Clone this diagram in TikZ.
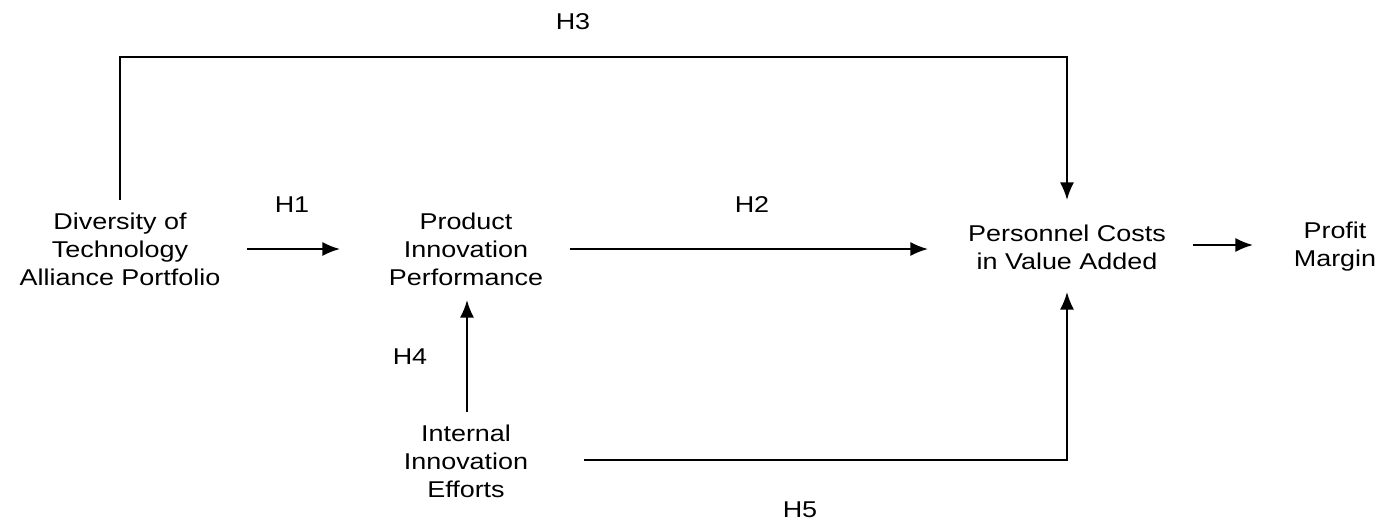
\documentclass[tikz,border=0pt]{standalone}
\usepackage{fontspec}
\setmainfont[FakeStretch=1.18]{Liberation Sans}
\usetikzlibrary{arrows.meta}
\begin{document}
\begin{tikzpicture}[x=0.02cm,y=-0.02cm,
  box/.style={align=center,inner sep=0pt,font=\fontsize{13}{16}\selectfont},
  lbl/.style={inner sep=0pt,font=\fontsize{13}{16}\selectfont},
  conn/.style={line width=1.1pt},
  arr/.style={conn,-{Latex[length=10pt,width=8pt]}}]
\useasboundingbox (0,0) rectangle (1384,525);
\node[box] (div) at (120,249) {Diversity of\\Technology\\Alliance Portfolio};
\node[box] (pip) at (466,249) {Product\\Innovation\\Performance};
\node[box] (pcv) at (1067,247) {Personnel Costs\\in Value Added};
\node[box] (pm) at (1335,247) {Profit\\Margin};
\node[box] (iie) at (466,461) {Internal\\Innovation\\Efforts};
\node[lbl] (h1) at (292,205) {H1};
\node[lbl] (h2) at (752,205) {H2};
\node[lbl] (h3) at (573,22) {H3};
\node[lbl] (h4) at (410,357) {H4};
\node[lbl] (h5) at (800,510) {H5};
\coordinate (a1s) at (247,249);
\coordinate (a1e) at (340,249);
\coordinate (a2s) at (570,249);
\coordinate (a2e) at (928,249);
\coordinate (a3s) at (120,200);
\coordinate (a3e) at (1067,200);
\coordinate (a4s) at (467,412);
\coordinate (a4e) at (467,300);
\coordinate (a5s) at (584,460);
\coordinate (a5e) at (1067,292);
\coordinate (a6s) at (1193,245);
\coordinate (a6e) at (1253,245);
\draw[arr] (a1s) -- (a1e);
\draw[arr] (a2s) -- (a2e);
\draw[arr] (a3s) |- (a3e |- 0,57) -- (a3e);
\draw[arr] (a4s) -- (a4e);
\draw[arr] (a5s) -| (a5e);
\draw[arr] (a6s) -- (a6e);
\end{tikzpicture}
\end{document}
